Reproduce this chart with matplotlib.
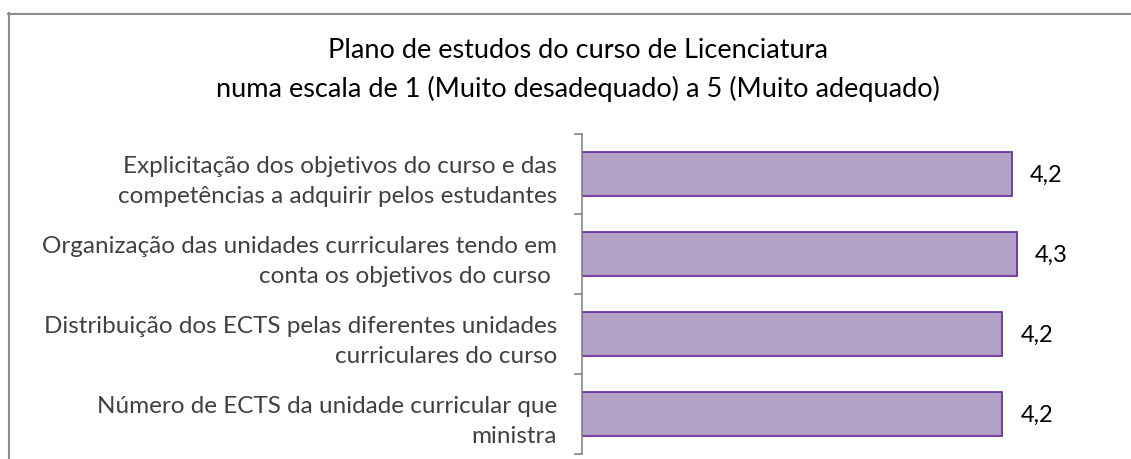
import numpy as np
import matplotlib
matplotlib.use("Agg")
import matplotlib.pyplot as plt
from matplotlib.lines import Line2D

plt.rcParams['font.family'] = ['Lato', 'DejaVu Sans']

# ---------------------------
# data
# ---------------------------
categories = [
    "Explicitação dos objetivos do curso e das\ncompetências a adquirir pelos estudantes",
    "Organização das unidades curriculares tendo em\nconta os objetivos do curso ",
    "Distribuição dos ECTS pelas diferentes unidades\ncurriculares do curso",
    "Número de ECTS da unidade curricular que\nministra",
]
values = [4.23, 4.27, 4.16, 4.16]
title = ("Plano de estudos do curso de Licenciatura\n"
         "numa escala de 1 (Muito desadequado) a 5 (Muito adequado)")

W, H, DPI = 1131, 460, 100
fig = plt.figure(figsize=(W / DPI, H / DPI), dpi=DPI)

# chart frame (only top and left edges visible in the crop)
frame_col = '#8c8c8c'
fig.add_artist(Line2D([8 / W, 1], [1 - 14.5 / H, 1 - 14.5 / H], color=frame_col, lw=1.5,
                      transform=fig.transFigure))
fig.add_artist(Line2D([8.5 / W, 8.5 / W], [0, 1 - 14 / H], color=frame_col, lw=1.5,
                      transform=fig.transFigure))

ax = fig.add_axes([582 / W, 1 - 455 / H, 532 / W, 320 / H])
y = np.arange(len(categories))
bars = ax.barh(y, [v - 1 for v in values], left=1, height=0.56,
               color='#b3a2c7', edgecolor='#7030a0', linewidth=1.3)

ax.set_xlim(1, 5)
ax.set_ylim(len(categories) - 0.5, -0.5)

# value labels
for yi, v in zip(y, values):
    ax.annotate(f"{v:.1f}".replace('.', ','), xy=(v, yi), xytext=(13, 0),
                textcoords='offset points', va='center', ha='left',
                fontsize=17, color='black')

# axes styling
for s in ['top', 'right', 'bottom']:
    ax.spines[s].set_visible(False)
ax.spines['left'].set_color('#868686')
ax.spines['left'].set_linewidth(1.2)
ax.set_xticks([])
ax.set_yticks(y)
ax.set_yticklabels(categories, fontsize=17.5, color='#404040', linespacing=1.55)
ax.tick_params(axis='y', which='major', length=0, pad=18)
ax.set_yticks(np.arange(-0.5, len(categories)), minor=True)
ax.tick_params(axis='y', which='minor', length=6, width=1.2, color='#868686')

fig.text(578 / W, 1 - 70 / H, title, ha='center', va='center', fontsize=19.5,
         color='black', linespacing=1.6)

fig.savefig('out.png', dpi=DPI)
